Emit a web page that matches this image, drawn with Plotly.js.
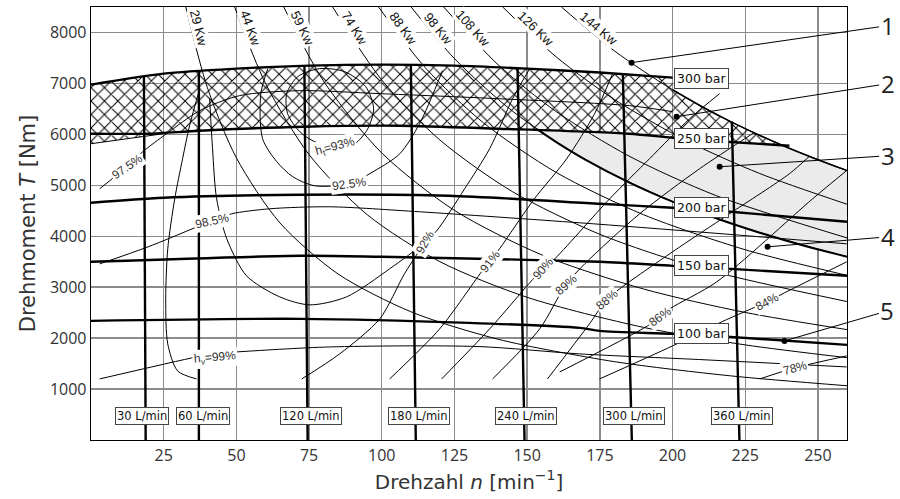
<!DOCTYPE html>
<html><head><meta charset="utf-8">
<script src="https://cdn.plot.ly/plotly-3.0.1.min.js"></script>
<style>html,body{margin:0;padding:0;background:#fff}#chart{width:900px;height:499px}</style>
</head><body><div id="chart"></div>
<script>
// ---- axes ----
const xTicks=[25,50,75,100,125,150,175,200,225,250];
const yTicks=[1000,2000,3000,4000,5000,6000,7000,8000];

// ---- iso-power curves ----
const kwNames=['29 Kw','44 Kw','59 Kw','74 Kw','88 Kw','98 Kw','108 Kw','126 Kw','144 Kw'];
const kw29N=[32.6,40,50,65,85,110,140,180,220,260], kw29T=[8500,6923,5539,4260,3258,2518,1978,1538,1259,1065];
const kw44N=[49.4,60,75,95,120,150,190,225,260], kw44T=[8500,7003,5602,4423,3501,2801,2211,1867,1616];
const kw59N=[66.3,80,100,125,155,190,225,260], kw59T=[8500,7043,5634,4507,3635,2965,2504,2167];
const kw74N=[83.1,100,120,145,175,210,260], kw74T=[8500,7067,5889,4873,4038,3365,2718];
const kw88N=[98.9,115,135,160,190,225,260], kw88T=[8500,7307,6225,5252,4423,3735,3232];
const kw98N=[110.1,125,145,170,200,230,260], kw98T=[8500,7487,6454,5505,4679,4069,3599];
const kw108N=[121.3,140,160,185,215,260], kw108T=[8500,7367,6446,5575,4797,3967];
const kw126N=[141.6,160,180,205,230,260], kw126T=[8500,7520,6685,5869,5231,4628];
const kw144N=[161.8,180,200,220,240,260], kw144T=[8500,7639,6876,6250,5730,5289];
const kwLabelN=[37.1,54.9,72.8,90.7,107.4,119.4,131.4,152.9,174.6];
const kwLabelT=[8080,8080,8080,8080,8080,8080,8080,8080,8080];
const kwLabelAngle=[76,70,64,58,54,51,48,44,40];

// ---- pressure lines ----
const pressNames=['300 bar','250 bar','200 bar','150 bar','100 bar'];
const pressLabelN=210;
const pressLabelT=[7094,5915,4559,3419,2083];
const p300N=[0,25,50,75,100,125,150,175,200], p300T=[6976,7192,7290,7349,7369,7350,7290,7213,7113];
const p250N=[0,20,37.4,73.5,106,140,185,200,220,240.2], p250T=[6013,6013,6072,6150,6170,6111,6013,5934,5850,5777];
const p200N=[0,25,72,123,175,200,220,260], p200T=[4657,4755,4814,4795,4637,4559,4480,4284];
const p150N=[0,72,100,175,200,220,260], p150T=[3498,3616,3596,3498,3419,3360,3223];
const p100N=[0,72,130,168,175,200,220,260], p100T=[2338,2378,2300,2201,2142,2083,2024,1867];

// ---- flow lines ----
const flowNames=['30 L/min','60 L/min','120 L/min','180 L/min','240 L/min','300 L/min','360 L/min'];
const flowTopN=[18.2,37.1,73.4,110,146.7,182.9,220.4];
const flowTopT=[7130,7250,7345,7365,7300,7190,6250];
const flowBotN=[18.8,37.1,74.5,111.7,149.1,186,223];
const flowLabelN=[17.5,38.4,75.7,112.7,149.5,186.8,223.8];
const flowLabelT=472;

// ---- regions ----
const hatchN=[0,25,50,75,100,125,150,175,200,200,210,220,230,238.5,220,200,185,140,106,73.5,37.4,25,0];
const hatchT=[6976,7192,7290,7349,7369,7350,7290,7213,7113,6876,6548,6250,5979,5780,5850,5934,6013,6111,6170,6150,6072,6013,5816];
const greyN=[153.5,185,200,220,238.5,245,250,255,260,260,245,230,215,200,185,170,160,153.5];
const greyT=[6097,6013,5934,5850,5780,5613,5500,5392,5289,3599,3819,4069,4353,4679,5058,5505,5849,6097];
const kw98ThickN=[153.5,160,170,185,200,215,230,245,260], kw98ThickT=[6097,5849,5505,5058,4679,4353,4069,3819,3599];
const kw144EdgeN=[200,210,220,230,238.5,245,250,255,260], kw144EdgeT=[6876,6548,6250,5979,5766,5613,5500,5392,5289];
const hatchLeftN=[0,25], hatchLeftT=[5816,6013];

// ---- efficiency contours ----
const e975N=[3.0,12.3,17.8,26.0,37.4,51.1,71.8,99.3,140,185.2,200], e975T=[4932,5364,5659,6013,6465,6760,6858,6799,6700,6563,6445];
const e985N=[3.0,20,41.6,48.4,61.5,82.1,113,168,210,259.9], e985T=[3458,3800,4303,4441,4539,4578,4480,4264,4080,3851];
const e99N=[3.0,36.3,43,50.1,82.1,133,168.1,209,259.9], e99T=[1199,1631,1700,1729,1827,1835,1690,1580,1434];
const e93N=[90.7,95.2,97.2,94.5,87.2,78.6,71.1,67.3,67.6,71.8,76.9,83.9,90.7], e93T=[5816,6111,6504,6936,7231,7290,7133,6799,6406,6052,5856,5757,5816];
const e925N=[60.8,58.4,59.0,63.9,69.4,76.9,88.6,97.6,106.2,113.0,120.9], e925T=[7290,6799,5915,5463,5168,4991,5030,5286,5620,6209,7251];
const e92N=[40.8,41.8,43.2,46.7,53.5,64.9,75.2,87.9,102.7,114.7,118.9,128.5,137.1,145.0,150.9], e92T=[6700,5718,4736,3950,3223,2810,2653,2810,3360,3871,4107,4932,5718,6700,7290];
const e92bN=[72.5,85.5,99.3,107.8,114.7], e92bT=[1199,1690,2378,3262,3871];
const e91N=[102.7,119.9,134.3,137.1,140.5,152.5,163.6,173.2,179.4], e91T=[1199,2181,3301,3498,3753,4736,5522,6406,7192];
const e90N=[120.6,137.1,155.3,158.8,178.4,192.1,205.9,216.2], e90T=[1199,2181,3360,3517,4736,5522,6308,6799];
const e89N=[138.1,154.3,163.3,169.8,188.7,209.3,228], e89T=[1199,2181,3046,3458,4441,5325,6031];
const e88N=[157,171.4,177.3,181.8,200,219.6,240.2,247], e88T=[1199,2279,2751,2967,3694,4441,5227,5567];
const e86N=[161.2,191.4,195.6,199,215.2,248.2,259.9], e86T=[1336,2240,2417,2574,3105,4736,5290];
const e84N=[174.9,200,216.9,232.4,238.5,259.9], e84T=[1199,1847,2319,2712,2889,3498];
const e78N=[230,242,259.9], e78T=[1199,1415,1651];
const eVN=[36.3,29.8,26.4,25.7,26.4,28.8,31.5,33.9,37.4], eVT=[1199,1356,1886,2771,3753,4736,5522,6170,6897];

const effLabels=['97.5%','98.5%','h<sub>v</sub>=99%','h<sub>t</sub>=93%','92.5%','92%','91%','90%','89%','88%','86%','84%','78%'];
const effLabelN=[12.3,41.6,42.6,83.9,88.6,114.7,137.1,155.3,163.3,177.3,195.6,232.4,242];
const effLabelT=[5364,4303,1610,5757,5030,3871,3498,3360,3046,2751,2417,2712,1415];
const effLabelAngle=[-35,-12,-5,-15,-8,-60,-52,-50,-42,-40,-36,-28,-15];

// ---- callouts ----
const calloutNames=['1','2','3','4','5'];
const calloutN=[185.9,201.4,216.2,232.7,238.5];
const calloutT=[7408,6347,5364,3792,1945];

// ================= build =================
const traces=[];
const thin={color:'#000',width:1,shape:'spline',smoothing:0.8};
const thick={color:'#000',width:2.4,shape:'spline',smoothing:0.8};
function line(x,y,l){traces.push({type:'scatter',mode:'lines',x:x,y:y,line:l,hoverinfo:'skip'});}

// grey region
traces.push({type:'scatter',mode:'lines',x:greyN,y:greyT,fill:'toself',fillcolor:'#ebebeb',line:{width:0},hoverinfo:'skip'});
// hatched region
traces.push({type:'scatter',mode:'lines',x:hatchN,y:hatchT,fill:'toself',fillcolor:'rgba(0,0,0,0)',
  fillpattern:{shape:'x',size:9.5,solidity:0.2,fgcolor:'#000',bgcolor:'rgba(0,0,0,0)',fgopacity:1},
  line:{width:0},hoverinfo:'skip'});

// kW curves
[[kw29N,kw29T],[kw44N,kw44T],[kw59N,kw59T],[kw74N,kw74T],[kw88N,kw88T],[kw98N,kw98T],[kw108N,kw108T],[kw126N,kw126T],[kw144N,kw144T]]
 .forEach(c=>line(c[0],c[1],thin));
// efficiency contours
[[e975N,e975T],[e985N,e985T],[e99N,e99T],[e93N,e93T],[e925N,e925T],[e92N,e92T],[e92bN,e92bT],[e91N,e91T],[e90N,e90T],[e89N,e89T],[e88N,e88T],[e86N,e86T],[e84N,e84T],[e78N,e78T],[eVN,eVT],[hatchLeftN,hatchLeftT]]
 .forEach(c=>line(c[0],c[1],thin));
// region edges
line(kw98ThickN,kw98ThickT,{color:'#000',width:2,shape:'spline'});
line(kw144EdgeN,kw144EdgeT,{color:'#000',width:1.6,shape:'spline'});
// pressure lines
[[p300N,p300T],[p250N,p250T],[p200N,p200T],[p150N,p150T],[p100N,p100T]].forEach(c=>line(c[0],c[1],thick));
// flow lines
for(let i=0;i<flowTopN.length;i++){line([flowTopN[i],flowBotN[i]],[flowTopT[i],0],{color:'#000',width:2.4});}
// callout dots
traces.push({type:'scatter',mode:'markers',x:calloutN,y:calloutT,marker:{color:'#000',size:6},hoverinfo:'skip'});

const ann=[];
kwNames.forEach((t,i)=>ann.push({x:kwLabelN[i],y:kwLabelT[i],xref:'x',yref:'y',text:t,showarrow:false,textangle:kwLabelAngle[i],
  font:{family:'Liberation Sans, Arial, sans-serif',size:13,color:'#111'},bgcolor:'#fff',borderpad:0}));
pressNames.forEach((t,i)=>ann.push({x:pressLabelN,y:pressLabelT[i],xref:'x',yref:'y',text:t,showarrow:false,
  font:{family:'DejaVu Sans, sans-serif',size:12.5,color:'#111'},bgcolor:'#fff',bordercolor:'#444',borderwidth:1,borderpad:2}));
flowNames.forEach((t,i)=>ann.push({x:flowLabelN[i],y:flowLabelT,xref:'x',yref:'y',text:t,showarrow:false,
  font:{family:'DejaVu Sans, sans-serif',size:11.5,color:'#111'},bgcolor:'#fff',bordercolor:'#444',borderwidth:1,borderpad:1}));
effLabels.forEach((t,i)=>ann.push({x:effLabelN[i],y:effLabelT[i],xref:'x',yref:'y',text:t,showarrow:false,textangle:effLabelAngle[i],
  font:{family:'Liberation Sans Narrow, Liberation Sans, sans-serif',size:12,color:'#333'},bgcolor:'#fff',borderpad:1}));
const calloutAx=[256,211,168,120,103], calloutAy=[-37,-33,-11,-10,-30];
calloutNames.forEach((t,i)=>ann.push({x:calloutN[i],y:calloutT[i],xref:'x',yref:'y',text:t,showarrow:true,arrowhead:0,arrowwidth:1,arrowcolor:'#000',
  ax:calloutAx[i],ay:calloutAy[i],font:{family:'Open Sans, Liberation Sans, sans-serif',size:24,color:'#222'}}));

const axisCommon={showgrid:true,gridcolor:'#8c8c8c',gridwidth:1.4,zeroline:false,showline:true,mirror:true,linecolor:'#000',linewidth:1.3,ticks:'',
  tickfont:{family:'Open Sans, Liberation Sans, sans-serif',size:16,color:'#333'}};
const layout={
  width:900,height:499,margin:{l:91,r:53,t:7,b:59},
  paper_bgcolor:'#fff',plot_bgcolor:'#fff',showlegend:false,
  font:{family:'Open Sans, Liberation Sans, sans-serif',color:'#333'},
  xaxis:Object.assign({},axisCommon,{range:[0,260],tickvals:xTicks,
    title:{text:'Drehzahl <i>n</i> [min<sup>−1</sup>]',font:{family:'DejaVu Sans, sans-serif',size:20,color:'#333'},standoff:10}}),
  yaxis:Object.assign({},axisCommon,{range:[0,8500],tickvals:yTicks,
    title:{text:'Drehmoment <i>T</i> [Nm]',font:{family:'DejaVu Sans, sans-serif',size:21,color:'#333'},standoff:8}}),
  annotations:ann
};
Plotly.newPlot('chart',traces,layout,{staticPlot:true,displayModeBar:false});
</script></body></html>
